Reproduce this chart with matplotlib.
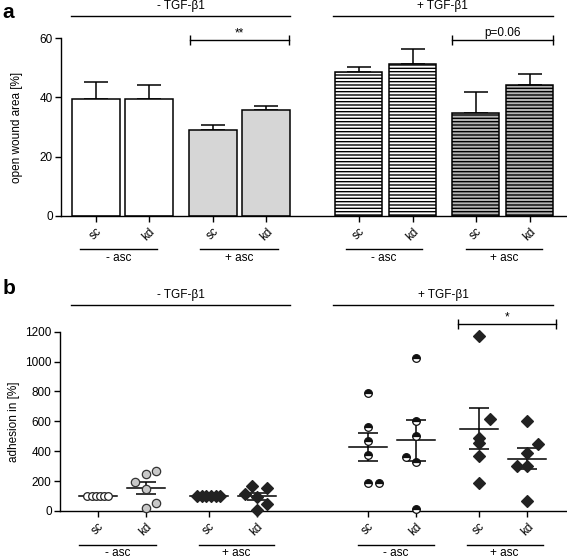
import matplotlib
matplotlib.use("Agg")
import matplotlib.pyplot as plt
import numpy as np

plt.rcParams['font.family'] = ['Liberation Sans', 'DejaVu Sans']
plt.rcParams['font.size'] = 8.5
plt.rcParams['hatch.linewidth'] = 1.0
plt.rcParams['axes.linewidth'] = 1.0

# ---- data, panel a (open wound area, mean + SEM) ----
bar_labels = ["sc", "kd", "sc", "kd", "sc", "kd", "sc", "kd"]
wound_mean = [39.3, 39.5, 29.0, 35.8, 48.4, 51.3, 34.8, 44.0]
wound_sem = [6.0, 4.8, 1.8, 1.3, 1.8, 5.1, 7.0, 4.0]

# ---- data, panel b (adhesion, single values per group) ----
adh_sc_noasc = [100, 100, 100, 100, 100, 100]
adh_kd_noasc = [245, 265, 194, 145, 54, 22]
adh_sc_asc = [100, 100, 100, 100, 100, 100]
adh_kd_asc = [170, 156, 112, 92, 47, 9]
adh_sc_noasc_tgf = [792, 564, 466, 375, 185, 185]
adh_kd_noasc_tgf = [1026, 605, 502, 359, 330, 13]
adh_sc_asc_tgf = [1171, 618, 491, 457, 368, 190]
adh_kd_asc_tgf = [600, 448, 388, 303, 303, 65]

tgf_labels = ["- TGF-\u03b21", "+ TGF-\u03b21"]
asc_labels = ["- asc", "+ asc", "- asc", "+ asc"]

# ---- layout ----
xa = [0, 1, 2.21, 3.21, 4.96, 5.98, 7.17, 8.19]
xb = [0, 1, 2.31, 3.31, 5.625, 6.625, 7.94, 8.94]
# horizontal spread of dots within a group (layout only)
jit = [
    [-0.22, -0.13, -0.04, 0.04, 0.13, 0.22],
    [0, 0.22, -0.22, 0, 0.22, 0],
    [-0.24, -0.14, -0.05, 0.05, 0.14, 0.24],
    [-0.11, 0.22, -0.24, 0, 0.22, 0],
    [0, 0, 0, 0, 0, 0.22],
    [0, 0, 0, -0.21, 0, 0],
    [0, 0.22, 0, 0, 0, 0],
    [0, 0.22, 0, -0.22, 0, 0],
]

fig = plt.figure(figsize=(5.67, 5.59), dpi=100)

# ================= panel a =================
ax = fig.add_axes([0.1076, 0.6136, 0.8924, 0.3184])
faces = ["white", "white", "#d6d6d6", "#d6d6d6", "white", "white", "#b5b5b5", "#b5b5b5"]
hatches = [None, None, None, None, "-----", "-----", "-----", "-----"]
for i in range(8):
    ax.bar(xa[i], wound_mean[i], width=0.89, color=faces[i], edgecolor="black",
           linewidth=1.1, hatch=hatches[i], zorder=2)
    ax.errorbar(xa[i], wound_mean[i], yerr=[[0], [wound_sem[i]]], color="black",
                capsize=8.5, elinewidth=1.1, capthick=1.1, zorder=1)
ax.set_xlim(-0.66, 8.89)
ax.set_ylim(0, 60)
ax.set_yticks([0, 20, 40, 60])
ax.set_xticks(xa)
ax.set_xticklabels(bar_labels, rotation=45, ha="center", va="top")
ax.tick_params(axis="both", length=4, width=1.0, pad=2)
ax.tick_params(axis="x", pad=3)
ax.spines["top"].set_visible(False)
ax.spines["right"].set_visible(False)
ax.set_ylabel("open wound area [%]", labelpad=12)

# group lines and labels
for (x1, x2), lab in zip([(-0.47, 3.66), (4.47, 8.62)], tgf_labels):
    ax.plot([x1, x2], [67.5, 67.5], color="black", lw=1.0, clip_on=False)
    ax.text((x1 + x2) / 2, 70.8, lab, ha="center", va="center")
for (x1, x2), lab in zip([(-0.30, 1.15), (1.96, 3.43), (4.72, 6.15), (6.98, 8.42)], asc_labels):
    ax.plot([x1, x2], [-11.1, -11.1], color="black", lw=1.0, clip_on=False)
    ax.text((x1 + x2) / 2, -14.3, lab, ha="center", va="center")

# significance
for (x1, x2), lab in zip([(1.77, 3.64), (6.72, 8.63)], ["**", "p=0.06"]):
    ax.plot([x1, x2], [59.2, 59.2], color="black", lw=1.0, marker="|",
            markersize=7, markeredgewidth=1.0, clip_on=False)
    ax.text((x1 + x2) / 2, 59.6, lab, ha="center", va="bottom")

fig.text(0.004, 0.995, "a", fontsize=15, fontweight="bold", ha="left", va="top")

# ================= panel b =================
bx = fig.add_axes([0.1058, 0.0859, 0.8942, 0.3207])
groups = [adh_sc_noasc, adh_kd_noasc, adh_sc_asc, adh_kd_asc,
          adh_sc_noasc_tgf, adh_kd_noasc_tgf, adh_sc_asc_tgf, adh_kd_asc_tgf]
circle_open = dict(marker="o", markersize=5.5, markerfacecolor="white",
                   markeredgecolor="#222222")
circle_grey = dict(marker="o", markersize=6, markerfacecolor="#c8c8c8",
                   markeredgecolor="#333333")
circle_half = dict(marker="o", markersize=5.5, fillstyle="top", markerfacecolor="#111111",
                   markerfacecoloralt="white", markeredgecolor="#111111")
diamond = dict(marker="D", markersize=6.5, markerfacecolor="#222222",
               markeredgecolor="#222222")
styles = [circle_open, circle_grey, diamond, diamond,
          circle_half, circle_half, diamond, diamond]
for i, vals in enumerate(groups):
    vals = np.array(vals, dtype=float)
    xs = xb[i] + np.array(jit[i])
    m = vals.mean()
    s = vals.std(ddof=1) / np.sqrt(len(vals))
    bx.plot(xs, vals, linestyle="none", markeredgewidth=0.9, zorder=3, clip_on=False,
            **styles[i])
    bx.plot([xb[i] - 0.4, xb[i] + 0.4], [m, m], color="black", lw=1.1, zorder=2)
    if s > 0:
        bx.errorbar(xb[i], m, yerr=s, color="black", capsize=6.9, elinewidth=1.1,
                    capthick=1.1, zorder=2)
bx.set_xlim(-0.79, 9.77)
bx.set_ylim(0, 1200)
bx.set_yticks(np.arange(0, 1201, 200))
bx.set_xticks(xb)
bx.set_xticklabels(bar_labels, rotation=45, ha="center", va="top")
bx.tick_params(axis="both", length=4, width=1.0, pad=2)
bx.tick_params(axis="x", pad=3)
bx.spines["top"].set_visible(False)
bx.spines["right"].set_visible(False)
bx.set_ylabel("adhesion in [%]", labelpad=4)

for (x1, x2), lab in zip([(-0.56, 4.0), (4.9, 9.48)], tgf_labels):
    bx.plot([x1, x2], [1379, 1379], color="black", lw=1.0, clip_on=False)
    bx.text((x1 + x2) / 2, 1446, lab, ha="center", va="center")
for (x1, x2), lab in zip([(-0.40, 1.22), (2.1, 3.67), (5.42, 7.0), (7.68, 9.26)], asc_labels):
    bx.plot([x1, x2], [-225, -225], color="black", lw=1.0, clip_on=False)
    bx.text((x1 + x2) / 2, -282, lab, ha="center", va="center")

bx.plot([7.5, 9.55], [1250, 1250], color="black", lw=1.0, marker="|",
        markersize=7, markeredgewidth=1.0, clip_on=False)
bx.text(8.52, 1255, "*", ha="center", va="bottom")

fig.text(0.004, 0.5, "b", fontsize=15, fontweight="bold", ha="left", va="top")

fig.savefig("out.png", dpi=100)
